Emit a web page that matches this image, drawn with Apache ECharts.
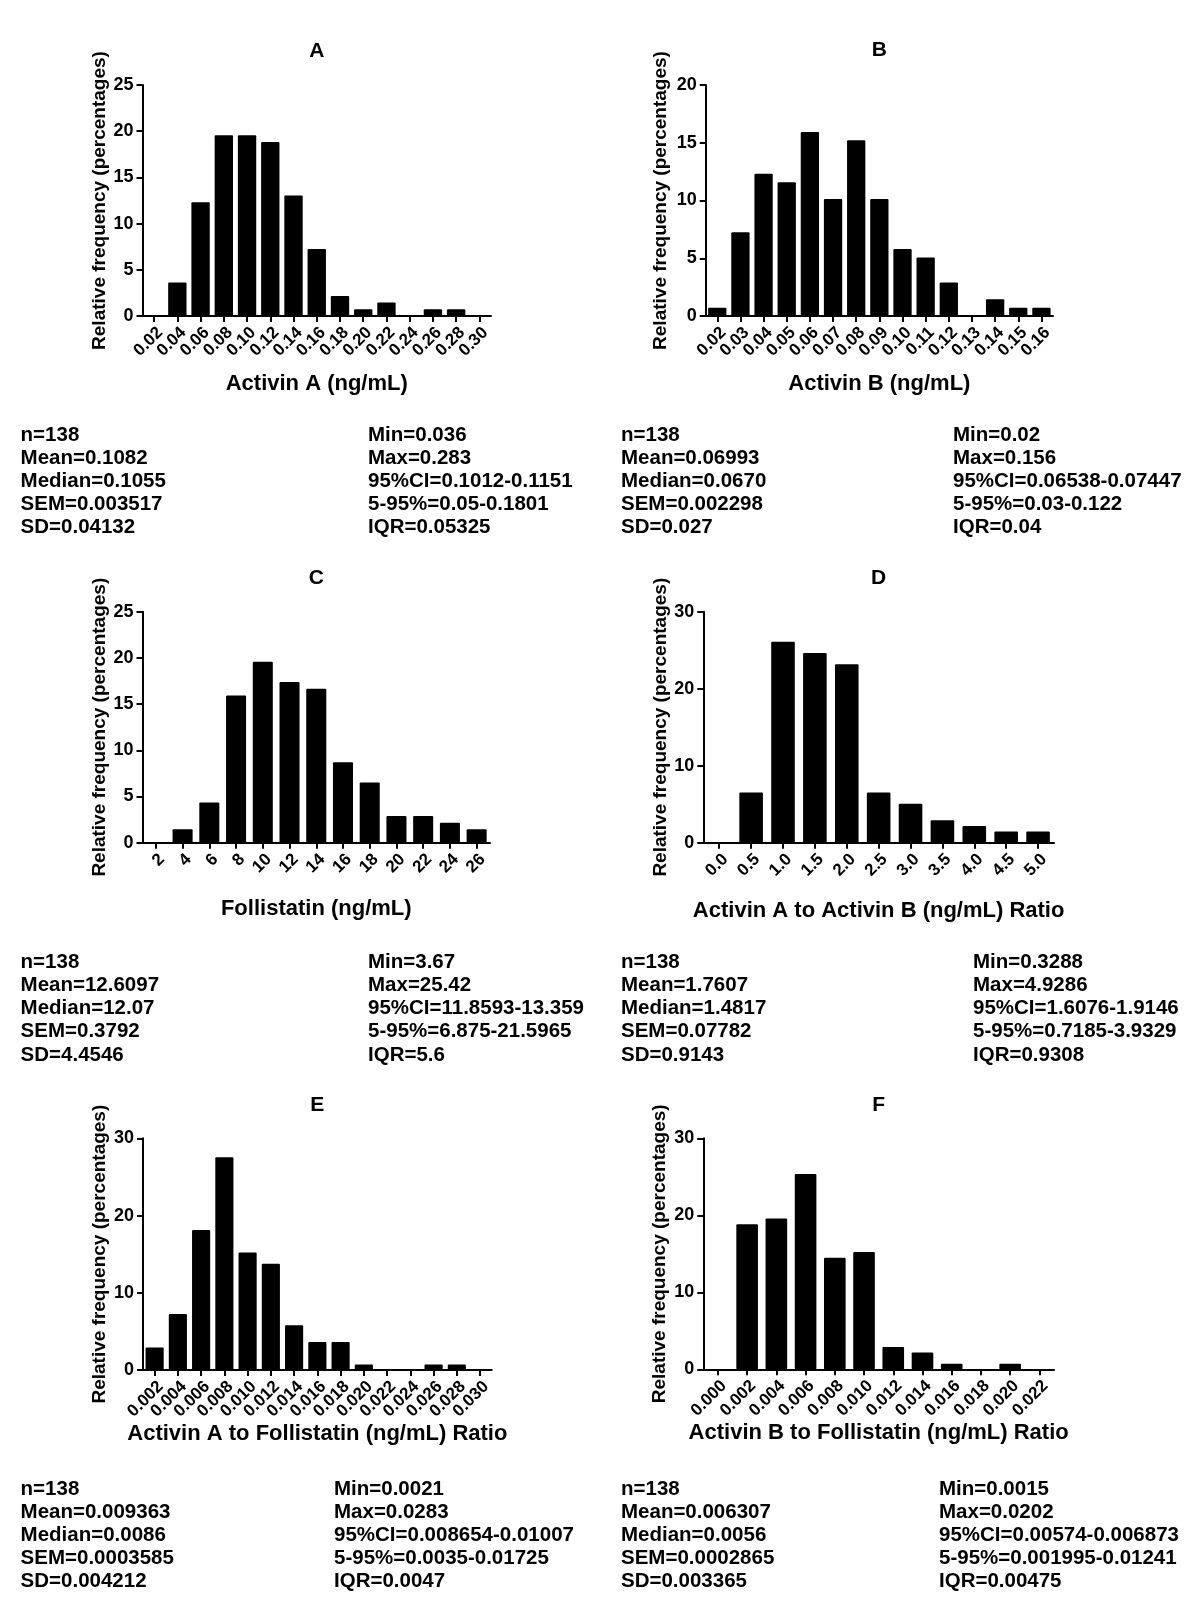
<!DOCTYPE html>
<html><head><meta charset="utf-8">
<script src="https://cdn.jsdelivr.net/npm/echarts@6/dist/echarts.min.js"></script>
<style>html,body{margin:0;padding:0;background:#fff}#c{width:1200px;height:1612px}</style>
</head><body><div id="c"></div>
<script>
// ---------- DATA ----------
const catsA = ['0.02','0.04','0.06','0.08','0.10','0.12','0.14','0.16','0.18','0.20','0.22','0.24','0.26','0.28','0.30'];
const valsA = [0, 3.62, 12.32, 19.57, 19.57, 18.84, 13.04, 7.25, 2.17, 0.72, 1.45, 0, 0.72, 0.72, 0];

const catsB = ['0.02','0.03','0.04','0.05','0.06','0.07','0.08','0.09','0.10','0.11','0.12','0.13','0.14','0.15','0.16'];
const valsB = [0.72, 7.25, 12.32, 11.59, 15.94, 10.14, 15.22, 10.14, 5.80, 5.07, 2.90, 0, 1.45, 0.72, 0.72];

const catsC = ['2','4','6','8','10','12','14','16','18','20','22','24','26'];
const valsC = [0, 1.45, 4.35, 15.94, 19.57, 17.39, 16.67, 8.70, 6.52, 2.90, 2.90, 2.17, 1.45];

const catsD = ['0.0','0.5','1.0','1.5','2.0','2.5','3.0','3.5','4.0','4.5','5.0'];
const valsD = [0, 6.52, 26.09, 24.64, 23.19, 6.52, 5.07, 2.90, 2.17, 1.45, 1.45];

const catsE = ['0.002','0.004','0.006','0.008','0.010','0.012','0.014','0.016','0.018','0.020','0.022','0.024','0.026','0.028','0.030'];
const valsE = [2.90, 7.25, 18.12, 27.54, 15.22, 13.77, 5.80, 3.62, 3.62, 0.72, 0, 0, 0.72, 0.72, 0];

const catsF = ['0.000','0.002','0.004','0.006','0.008','0.010','0.012','0.014','0.016','0.018','0.020','0.022'];
const valsF = [0, 18.84, 19.57, 25.36, 14.49, 15.22, 2.90, 2.17, 0.72, 0, 0.72, 0];

const yMaxes = [25, 20, 25, 30, 30, 30];
const yIntervals = [5, 5, 5, 10, 10, 10];

const panelTitles = ['A','B','C','D','E','F'];
const xNames = ['Activin A (ng/mL)','Activin B (ng/mL)','Follistatin (ng/mL)',
  'Activin A to Activin B (ng/mL) Ratio','Activin A to Follistatin (ng/mL) Ratio','Activin B to Follistatin (ng/mL) Ratio'];
const yName = 'Relative frequency (percentages)';

const statsLeftA = ['n=138','Mean=0.1082','Median=0.1055','SEM=0.003517','SD=0.04132'];
const statsRightA = ['Min=0.036','Max=0.283','95%CI=0.1012-0.1151','5-95%=0.05-0.1801','IQR=0.05325'];
const statsLeftB = ['n=138','Mean=0.06993','Median=0.0670','SEM=0.002298','SD=0.027'];
const statsRightB = ['Min=0.02','Max=0.156','95%CI=0.06538-0.07447','5-95%=0.03-0.122','IQR=0.04'];
const statsLeftC = ['n=138','Mean=12.6097','Median=12.07','SEM=0.3792','SD=4.4546'];
const statsRightC = ['Min=3.67','Max=25.42','95%CI=11.8593-13.359','5-95%=6.875-21.5965','IQR=5.6'];
const statsLeftD = ['n=138','Mean=1.7607','Median=1.4817','SEM=0.07782','SD=0.9143'];
const statsRightD = ['Min=0.3288','Max=4.9286','95%CI=1.6076-1.9146','5-95%=0.7185-3.9329','IQR=0.9308'];
const statsLeftE = ['n=138','Mean=0.009363','Median=0.0086','SEM=0.0003585','SD=0.004212'];
const statsRightE = ['Min=0.0021','Max=0.0283','95%CI=0.008654-0.01007','5-95%=0.0035-0.01725','IQR=0.0047'];
const statsLeftF = ['n=138','Mean=0.006307','Median=0.0056','SEM=0.0002865','SD=0.003365'];
const statsRightF = ['Min=0.0015','Max=0.0202','95%CI=0.00574-0.006873','5-95%=0.001995-0.01241','IQR=0.00475'];

// ---------- LAYOUT ----------
const cats = [catsA, catsB, catsC, catsD, catsE, catsF];
const vals = [valsA, valsB, valsC, valsD, valsE, valsF];
const statsL = [statsLeftA, statsLeftB, statsLeftC, statsLeftD, statsLeftE, statsLeftF];
const statsR = [statsRightA, statsRightB, statsRightC, statsRightD, statsRightE, statsRightF];

const grids = [
  {left:142.5, top:85,     width:348.5, height:231},
  {left:705.7, top:85,     width:347.3, height:231},
  {left:142.5, top:611.7,  width:347.5, height:231},
  {left:703.3, top:611.7,  width:350.7, height:231},
  {left:143,   top:1138.3, width:348.7, height:231.7},
  {left:703.3, top:1138.3, width:350.7, height:231}
];
const xNameGaps = [57, 57, 55, 57, 50, 51];
const yNameGaps = [31, 35, 32, 33, 34, 34];
const barGaps = ['21%','21%','25%','26%','22%','26%'];
const titleY = [51, 50, 578, 578, 1105, 1105];
const statsLX = [20.6, 621, 20.6, 621, 20.6, 621];
const statsRX = [368, 953, 368, 973, 334, 939];
const statsY0 = [435, 435, 962.5, 962.5, 1489, 1489];
const statsStep = 23.1;

const FONT = '"Liberation Sans", Arial, Helvetica, sans-serif';

const option = {
  backgroundColor: '#fff',
  animation: false,
  grid: grids.map(g => Object.assign({containLabel:false}, g)),
  xAxis: cats.map((c, i) => ({
    type: 'category', gridIndex: i, data: c,
    boundaryGap: true,
    axisLine: {show:true, lineStyle:{color:'#000', width:2}},
    axisTick: {show:true, alignWithLabel:true, interval:0, length:6, lineStyle:{color:'#000', width:2}},
    axisLabel: {interval:0, rotate:45, margin:8, verticalAlign:'top', color:'#000', fontSize:17, fontWeight:'bold', fontFamily:FONT},
    name: xNames[i], nameLocation:'middle', nameGap: xNameGaps[i],
    nameTextStyle: {color:'#000', fontSize:22, fontWeight:'bold', fontFamily:FONT},
    splitLine: {show:false}
  })),
  yAxis: cats.map((c, i) => ({
    type: 'value', gridIndex: i, min: 0, max: yMaxes[i], interval: yIntervals[i],
    axisLine: {show:true, lineStyle:{color:'#000', width:2}},
    axisTick: {show:true, length:6, lineStyle:{color:'#000', width:2}},
    axisLabel: {margin:9, color:'#000', fontSize:18, fontWeight:'bold', fontFamily:FONT},
    name: yName, nameLocation:'middle', nameGap: yNameGaps[i], nameRotate: 90,
    nameTextStyle: {color:'#000', fontSize:19, fontWeight:'bold', fontFamily:FONT},
    splitLine: {show:false}
  })),
  series: vals.map((v, i) => ({
    type: 'bar', xAxisIndex: i, yAxisIndex: i, data: v,
    barCategoryGap: barGaps[i],
    itemStyle: {color:'#000', borderRadius:1}
  })),
  graphic: []
};

grids.forEach((g, i) => {
  option.graphic.push({
    type:'text', x: g.left + g.width/2, y: titleY[i], silent:true,
    style:{text: panelTitles[i], fill:'#000', font:'bold 21px ' + FONT,
      align:'center', verticalAlign:'middle', textAlign:'center', textVerticalAlign:'middle'}
  });
  statsL[i].forEach((t, k) => option.graphic.push({
    type:'text', x: statsLX[i], y: statsY0[i] + k*statsStep, silent:true,
    style:{text:t, fill:'#000', font:'bold 20.5px ' + FONT,
      align:'left', verticalAlign:'middle', textAlign:'left', textVerticalAlign:'middle'}
  }));
  statsR[i].forEach((t, k) => option.graphic.push({
    type:'text', x: statsRX[i], y: statsY0[i] + k*statsStep, silent:true,
    style:{text:t, fill:'#000', font:'bold 20.5px ' + FONT,
      align:'left', verticalAlign:'middle', textAlign:'left', textVerticalAlign:'middle'}
  }));
});

const chart = echarts.init(document.getElementById('c'), null, {renderer:'canvas'});
chart.setOption(option);
</script>
</body></html>
